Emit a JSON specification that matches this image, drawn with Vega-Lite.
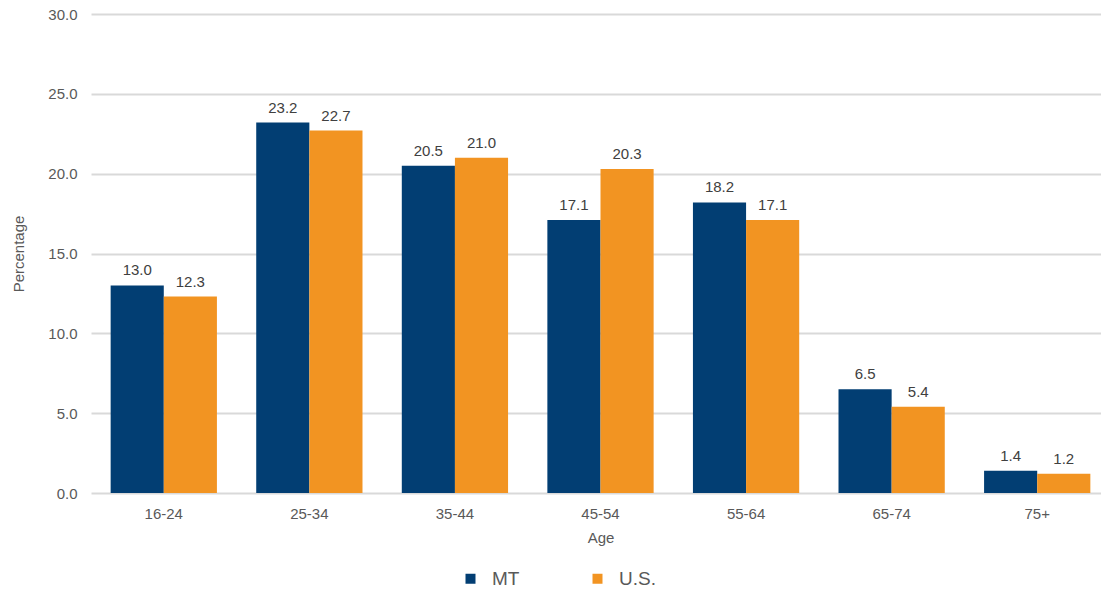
{
  "$schema": "https://vega.github.io/schema/vega-lite/v6.json",
  "width": 1010,
  "height": 479,
  "autosize": {"type": "none"},
  "padding": {"left": 91, "top": 14, "right": 0, "bottom": 99},
  "background": "white",
  "config": {
    "font": "Liberation Sans",
    "view": {"stroke": null},
    "axis": {"labelColor": "#595959", "titleColor": "#595959", "labelFontSize": 15, "titleFontSize": 15, "titleFontWeight": "normal"}
  },
  "data": {
    "values": [
      {"age": "16-24", "area": "MT", "pct": 13.0},
      {"age": "16-24", "area": "U.S.", "pct": 12.3},
      {"age": "25-34", "area": "MT", "pct": 23.2},
      {"age": "25-34", "area": "U.S.", "pct": 22.7},
      {"age": "35-44", "area": "MT", "pct": 20.5},
      {"age": "35-44", "area": "U.S.", "pct": 21.0},
      {"age": "45-54", "area": "MT", "pct": 17.1},
      {"age": "45-54", "area": "U.S.", "pct": 20.3},
      {"age": "55-64", "area": "MT", "pct": 18.2},
      {"age": "55-64", "area": "U.S.", "pct": 17.1},
      {"age": "65-74", "area": "MT", "pct": 6.5},
      {"age": "65-74", "area": "U.S.", "pct": 5.4},
      {"age": "75+", "area": "MT", "pct": 1.4},
      {"age": "75+", "area": "U.S.", "pct": 1.2}
    ]
  },
  "encoding": {
    "x": {
      "field": "age",
      "type": "nominal",
      "sort": null,
      "scale": {"range": [0, 1019], "paddingInner": 0.27, "paddingOuter": 0.135},
      "axis": {
        "title": "Age",
        "labelAngle": 0,
        "ticks": false,
        "domain": false,
        "labelBaseline": "middle",
        "labelPadding": 20,
        "titleBaseline": "middle",
        "titleY": 44
      }
    },
    "xOffset": {"field": "area", "type": "nominal", "sort": ["MT", "U.S."]},
    "y": {
      "field": "pct",
      "type": "quantitative",
      "scale": {"domain": [0, 30], "nice": false},
      "axis": {
        "title": "Percentage",
        "values": [0, 5, 10, 15, 20, 25, 30],
        "format": ".1f",
        "ticks": false,
        "domain": false,
        "labelPadding": 14,
        "gridColor": "#d9d9d9",
        "gridWidth": 2,
        "titleAngle": 270,
        "titleBaseline": "middle",
        "titleX": -73,
        "titleY": 239.5
      }
    }
  },
  "layer": [
    {
      "mark": {"type": "bar"},
      "encoding": {
        "color": {
          "field": "area",
          "type": "nominal",
          "sort": ["MT", "U.S."],
          "scale": {"domain": ["MT", "U.S."], "range": ["#023e73", "#f29422"]},
          "legend": {
            "title": null,
            "orient": "none",
            "direction": "horizontal",
            "legendX": 370,
            "legendY": 555,
            "padding": 0,
            "symbolType": "square",
            "symbolSize": 100,
            "symbolStrokeWidth": 0,
            "labelFontSize": 19,
            "labelColor": "#595959",
            "labelOffset": 12,
            "columnPadding": 68
          }
        }
      }
    },
    {
      "mark": {"type": "text", "baseline": "alphabetic", "dy": -10, "fontSize": 15, "color": "#404040"},
      "encoding": {
        "text": {"field": "pct", "type": "quantitative", "format": ".1f"}
      }
    }
  ]
}
